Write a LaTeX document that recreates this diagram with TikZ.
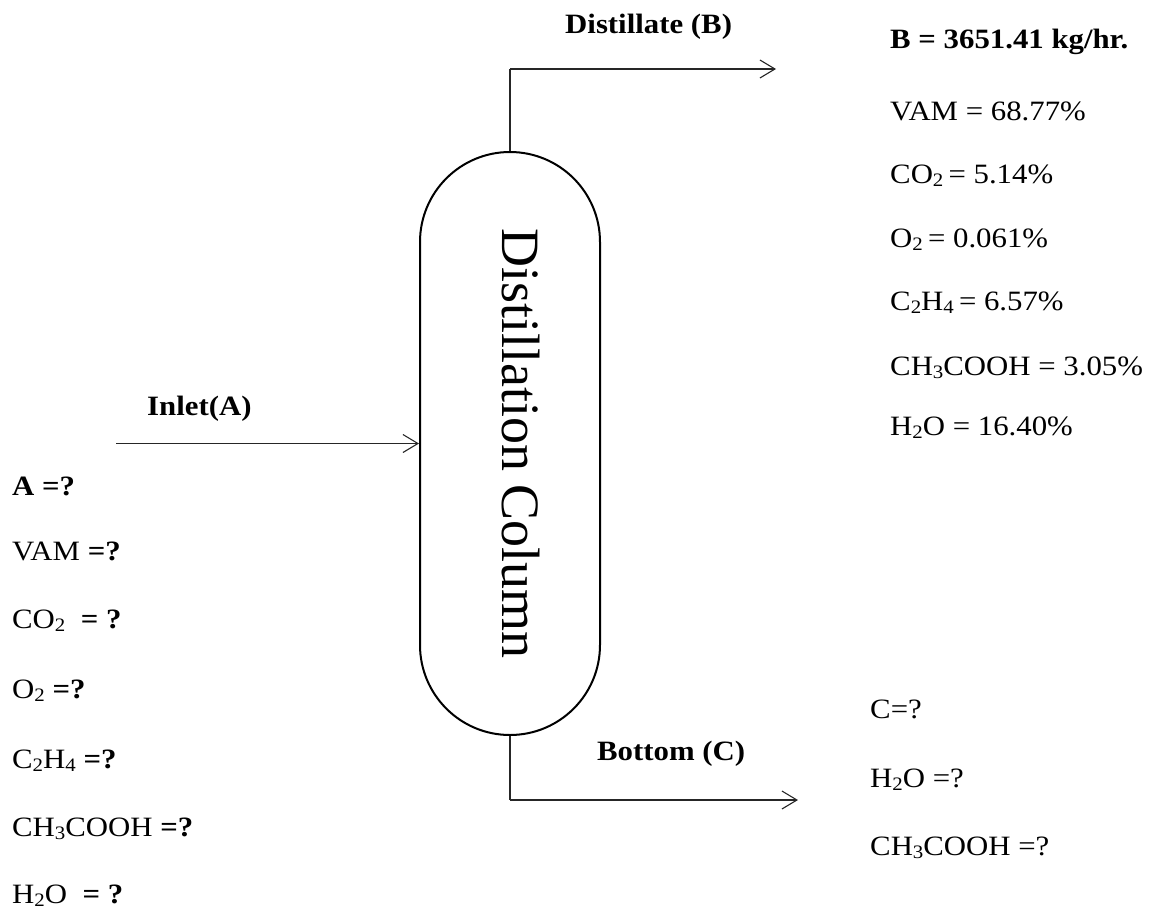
\documentclass[tikz,border=0pt]{standalone}
\usepackage{fontspec}
\setmainfont{Liberation Serif}
\usepackage{graphicx}
\usetikzlibrary{arrows.meta}
% subscript in the style of a word processor
\newcommand{\sub}[1]{\raisebox{-0.14em}{\fontsize{19}{19}\selectfont #1}}
% text set slightly wide
\newcommand{\wtx}[1]{\scalebox{1.1}[1]{#1}}
\tikzset{
  lbl/.style={anchor=base west, inner sep=0pt, font=\fontsize{28}{28}\selectfont},
  flow/.style={line width=1.1pt, draw=black!85, -{Straight Barb[length=15pt,width=18pt,line width=1.1pt]}},
  pipe/.style={line width=1.1pt, draw=black!85},
  column/.style={draw, line width=2pt, minimum width=180pt, minimum height=583pt,
                 rounded corners=90pt, inner sep=0pt}
}
\begin{document}
\begin{tikzpicture}[x=1pt,y=-1pt]
\useasboundingbox (0,0) rectangle (1163,911);

% distillation column
\node[column] (col) at (510,443.5) {};
\node[rotate=-90, anchor=base, inner sep=0pt, font=\fontsize{54}{54}\selectfont] (coltxt) at (502,443.5) {Distillation Column};

% stream connectors
\coordinate (topbend) at (510,69);
\coordinate (topend) at (776,69);
\coordinate (botbend) at (510,800);
\coordinate (botend) at (798,800);
\coordinate (inletstart) at (116,443.5);
\draw[pipe] (col.north) -- (topbend);
\draw[flow] (topbend) -- (topend);
\draw[pipe] (col.south) -- (botbend);
\draw[flow] (botbend) -- (botend);
\draw[flow] (inletstart) -- (col.west);

% stream labels
\node[lbl] (ldist) at (565,33) {\wtx{\textbf{Distillate (B)}}};
\node[lbl] (linlet) at (147,415) {\wtx{\textbf{Inlet(A)}}};
\node[lbl] (lbot) at (597,760) {\wtx{\textbf{Bottom (C)}}};

% distillate composition
\node[lbl] (b0) at (890,48) {\wtx{\textbf{B = 3651.41 kg/hr.}}};
\node[lbl] (b1) at (890,120) {\wtx{VAM = 68.77\%}};
\node[lbl] (b2) at (890,183) {\wtx{CO\sub{2}\,= 5.14\%}};
\node[lbl] (b3) at (890,247) {\wtx{O\sub{2}\,= 0.061\%}};
\node[lbl] (b4) at (890,310) {\wtx{C\sub{2}H\sub{4}\,= 6.57\%}};
\node[lbl] (b5) at (890,375) {\wtx{CH\sub{3}COOH = 3.05\%}};
\node[lbl] (b6) at (890,435) {\wtx{H\sub{2}O = 16.40\%}};

% inlet composition
\node[lbl] (a0) at (12,495) {\wtx{\textbf{A =?}}};
\node[lbl] (a1) at (12,560) {\wtx{VAM \textbf{=?}}};
\node[lbl] (a2) at (12,628) {\wtx{CO\sub{2}\ \ \textbf{= ?}}};
\node[lbl] (a3) at (12,698) {\wtx{O\sub{2} \textbf{=?}}};
\node[lbl] (a4) at (12,768) {\wtx{C\sub{2}H\sub{4} \textbf{=?}}};
\node[lbl] (a5) at (12,836) {\wtx{CH\sub{3}COOH \textbf{=?}}};
\node[lbl] (a6) at (12,903) {\wtx{H\sub{2}O\ \ \textbf{= ?}}};

% bottom composition
\node[lbl] (c0) at (870,718) {\wtx{C=?}};
\node[lbl] (c1) at (870,787) {\wtx{H\sub{2}O =?}};
\node[lbl] (c2) at (870,855) {\wtx{CH\sub{3}COOH =?}};
\end{tikzpicture}
\end{document}
